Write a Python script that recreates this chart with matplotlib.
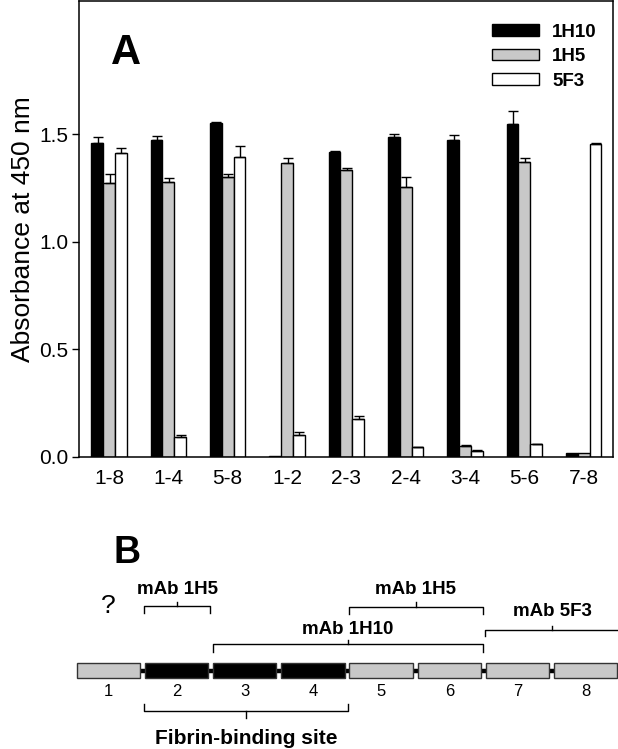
import matplotlib
matplotlib.use("Agg")
import matplotlib.pyplot as plt
from matplotlib.patches import Rectangle, Patch
import numpy as np

plt.rcParams['font.family'] = ['Liberation Sans', 'DejaVu Sans']

# ---------------- data ----------------
categories = ['1-8', '1-4', '5-8', '1-2', '2-3', '2-4', '3-4', '5-6', '7-8']
series_names = ['1H10', '1H5', '5F3']
vals_1H10 = [1.460, 1.473, 1.553, 0.005, 1.417, 1.486, 1.474, 1.547, 0.016]
err_1H10 = [0.027, 0.020, 0.003, 0.000, 0.003, 0.014, 0.022, 0.060, 0.000]
vals_1H5 = [1.274, 1.276, 1.302, 1.365, 1.335, 1.253, 0.051, 1.372, 0.019]
err_1H5 = [0.039, 0.022, 0.011, 0.025, 0.008, 0.047, 0.002, 0.016, 0.000]
vals_5F3 = [1.413, 0.090, 1.393, 0.100, 0.175, 0.044, 0.028, 0.059, 1.454]
err_5F3 = [0.021, 0.012, 0.052, 0.013, 0.015, 0.002, 0.002, 0.002, 0.003]
y_ticks = [0.0, 0.5, 1.0, 1.5]

domain_ids = [1, 2, 3, 4, 5, 6, 7, 8]
fibrin_domains = [2, 3, 4]
epitope_labels = ['mAb 1H5', 'mAb 1H5', 'mAb 1H10', 'mAb 5F3']
epitope_first = [2, 5, 3, 7]
epitope_last = [2, 6, 6, 8]
site_label = 'Fibrin-binding site'
site_first, site_last = 2, 4
unknown_domain = 1

# ---------------- figure ----------------
W, H = 618, 749
fig = plt.figure(figsize=(W / 100, H / 100), dpi=100)

# Panel A
left_px, right_px, top_px, bot_px = 79.3, 613.3, 1.0, 456.7
axA = fig.add_axes([left_px / W, 1 - bot_px / H, (right_px - left_px) / W, (bot_px - top_px) / H])
ymax = (bot_px - top_px) / 215.0
x = np.arange(len(categories))
w = 0.2
colors = ['black', '#c8c8c8', 'white']
all_vals = [vals_1H10, vals_1H5, vals_5F3]
all_errs = [err_1H10, err_1H5, err_5F3]
for j, (v, e, c, name) in enumerate(zip(all_vals, all_errs, colors, series_names)):
    xs = x + (j - 1) * w
    axA.bar(xs, v, width=w, color=c, edgecolor='black', linewidth=1.0, label=name, zorder=2)
    e = np.array(e)
    m = e > 0
    axA.errorbar(xs[m] + 0.01, np.array(v)[m], yerr=[np.zeros(m.sum()), e[m]], fmt='none',
                 ecolor='black', elinewidth=1.0, capsize=3.3, capthick=1.0, zorder=3)

axA.set_xlim(-0.5, len(categories) - 0.5)
axA.set_ylim(0, ymax)
axA.set_yticks(y_ticks)
axA.set_yticklabels([f'{t:.1f}' for t in y_ticks])
axA.set_xticks(x)
axA.set_xticklabels(categories)
axA.tick_params(axis='y', direction='out', length=5, width=1.0, labelsize=15, pad=3)
axA.tick_params(axis='x', length=0, labelsize=15, pad=9)
for s in axA.spines.values():
    s.set_linewidth(1.1)
axA.set_ylabel('Absorbance at 450 nm', fontsize=19, labelpad=3)
axA.text(0.06, 0.93, 'A', transform=axA.transAxes, fontsize=30, fontweight='bold',
         va='top', ha='left')
handles = [Patch(facecolor=c, edgecolor='black', linewidth=1.0) for c in colors]
leg = axA.legend(handles, series_names, loc='upper right', bbox_to_anchor=(0.99, 0.975),
                 frameon=False, prop={'weight': 'bold', 'size': 13.5},
                 handlelength=2.5, handleheight=0.6, labelspacing=0.4, handletextpad=0.7,
                 borderaxespad=0.2)

# Panel B
axB = fig.add_axes([0, 0, 1, 249 / H])
unit = 68.2
c1 = 108.3
axB.set_xlim((0 - c1) / unit + 1, (W - c1) / unit + 1)
axB.set_ylim(749, 500)
axB.axis('off')

box_w = 0.93
box_y, box_h = 663.3, 15.0
mid_y = box_y + box_h / 2
axB.plot([domain_ids[0], domain_ids[-1]], [mid_y, mid_y], color='black', lw=3.2, zorder=1,
         solid_capstyle='butt')
for d in domain_ids:
    fc = 'black' if d in fibrin_domains else '#c8c8c8'
    axB.add_patch(Rectangle((d - box_w / 2, box_y), box_w, box_h, facecolor=fc,
                            edgecolor='#333333', linewidth=1.0, zorder=2))
    axB.text(d, 692, str(d), ha='center', va='center', fontsize=12)

def top_bracket(x0, x1, y, drop, label, ty):
    xm = (x0 + x1) / 2
    axB.plot([x0, x0, x1, x1], [y + drop, y, y, y + drop], color='black', lw=1.0)
    axB.plot([xm, xm], [y, y - 4.5], color='black', lw=1.0)
    axB.text(xm, ty, label, ha='center', va='center', fontsize=13.5, fontweight='bold')

line_ys = [606, 606.5, 644, 630]
drops = [7, 7, 7.5, 6]
text_ys = [590, 590, 629, 611.5]
for lab, f, l, ly, dr, ty in zip(epitope_labels, epitope_first, epitope_last, line_ys, drops, text_ys):
    top_bracket(f - 0.47, l + 0.49, ly, dr, lab, ty)

# fibrin-binding site bracket (below)
x0, x1 = site_first - 0.47, site_last + 0.51
xm = (x0 + x1) / 2
yb = 710.7
axB.plot([x0, x0, x1, x1], [yb - 7, yb, yb, yb - 7], color='black', lw=1.0)
axB.plot([xm, xm], [yb, yb + 7], color='black', lw=1.0)
axB.text(xm, 738, site_label, ha='center', va='center', fontsize=15, fontweight='bold')

axB.text(unknown_domain, 606, '?', ha='center', va='center', fontsize=19)
axB.text((113.6 - c1) / unit + 1, 553, 'B', ha='left', va='center', fontsize=27, fontweight='bold')

fig.savefig('out.png', dpi=100)
